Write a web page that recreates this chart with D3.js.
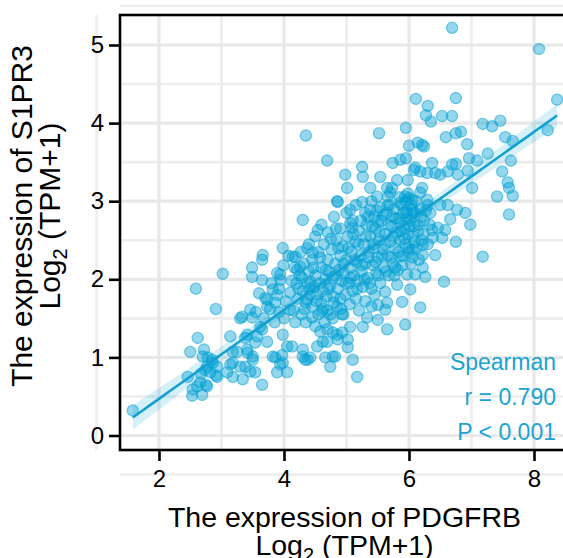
<!DOCTYPE html>
<html>
<head>
<meta charset="utf-8">
<script src="https://cdn.jsdelivr.net/npm/d3@7"></script>
<style>
  body { margin: 0; background: #fff; }
  svg { display: block; }
  text { font-family: "Liberation Sans", Arial, sans-serif; }
</style>
</head>
<body>
<div id="chart"></div>
<script>
// axis ticks
const xTicks = [2, 4, 6, 8];
const yTicks = [0, 1, 2, 3, 4, 5];
const xMinor = [1, 3, 5, 7, 9];
const yMinor = [-0.5, 0.5, 1.5, 2.5, 3.5, 4.5, 5.5];

// labels
const xGene = "PDGFRB";
const yGene = "S1PR3";
const statLines = ["Spearman", "r = 0.790", "P < 0.001"];

// samples: [PDGFRB, S1PR3] in log2(TPM+1)
const lowerSamples = [
  [1.58,0.32],[2.59,1.88],[2.91,1.62],[3.02,2.07],[2.62,1.25],[2.50,1.07],[2.72,1.10],[2.78,1.00],[2.85,0.97],[3.14,1.27],
  [3.18,1.07],[2.46,0.75],[2.67,0.79],[2.74,0.84],[2.82,0.81],[2.91,0.77],[3.09,0.81],[2.75,0.65],[2.61,0.63],[2.53,0.51],
  [2.69,0.52],[2.54,0.59],[2.93,0.88],[3.14,0.91],[3.18,0.75],[2.70,1.01],[2.77,0.88],[2.86,0.93],[3.18,0.93],[2.66,0.68],
  [2.77,0.63],[2.93,0.75],[3.30,1.50],[3.46,1.61],[3.49,2.15],[3.49,2.03],[3.65,1.99],[3.66,2.31],[3.65,2.25],[3.89,2.08],
  [3.94,1.99],[3.98,2.40],[4.14,2.29],[4.26,2.16],[4.30,2.76],[4.54,2.63],[3.73,1.74],[3.41,1.29],[3.57,1.27],[3.65,1.36],
  [3.30,0.88],[3.34,0.72],[3.54,0.81],[3.65,0.65],[3.41,1.10],[3.50,1.01],[3.82,1.01],[3.89,0.81],[4.05,0.81],[3.98,0.93],
  [4.05,1.14],[4.30,1.01],[4.38,0.97],[4.74,0.88],[4.78,1.01],[4.53,1.14],[4.69,1.36],[4.78,1.32],[4.10,1.61],[3.82,1.87],
  [4.37,1.74],[3.94,2.06],[4.21,2.12],[4.29,2.02],[4.42,1.97],[3.70,1.76],[3.89,1.80],[4.10,1.83],[3.73,1.65],[3.86,1.70],
  [3.33,1.52],[3.49,1.51],[3.62,1.39],[3.38,1.25],[3.54,1.19],[3.73,1.20],[3.25,1.07],[3.42,1.06],[3.50,0.97],[3.38,0.88],
  [3.46,0.82],[3.86,1.00],[3.94,0.91],[3.97,1.03],[4.13,1.14],[4.30,1.10],[4.42,1.00],[4.34,0.97],[4.66,1.00],[4.69,1.20],
  [3.98,1.29],[4.18,1.45],[4.45,1.51],[4.58,1.33],[4.61,1.59],[4.74,1.55]
];

const upperSamples = [
  [4.35,3.84],[4.69,3.52],[4.85,3.00],[4.83,2.65],[4.18,2.29],[4.37,2.40],[4.46,2.34],
  [6.69,5.22],[8.08,4.95],[8.37,4.30],[8.22,3.91],
  [6.11,4.31],[6.75,4.32],[6.30,4.22],[6.27,4.10],[6.35,4.02],[6.53,4.09],[6.69,4.09],[7.18,3.99],[7.33,3.96],[7.46,4.03],
  [5.95,3.94],[5.52,3.87],[6.59,3.82],[6.75,3.87],[6.83,3.89],[6.93,3.73],[7.54,3.82],[7.66,3.77],[6.00,3.71],[6.14,3.75],
  [6.24,3.70],[5.74,3.49],[5.86,3.53],[5.95,3.55],[6.10,3.43],[6.18,3.38],[6.37,3.49],[6.69,3.47],[6.75,3.48],[6.96,3.55],
  [7.09,3.52],[7.26,3.61],[7.63,3.52],[7.49,3.38],[5.25,3.44],[4.98,3.34],[5.26,3.31],[5.54,3.31],[5.01,3.17],[5.38,3.17],
  [5.65,3.17],[5.81,3.27],[5.98,3.27],[6.08,3.40],[6.29,3.36],[6.42,3.36],[6.50,3.34],[6.62,3.38],[6.78,3.34],[6.94,3.39],
  [7.01,3.17],[7.58,3.24],[7.60,3.17],[7.66,3.07],[7.41,3.06],[7.60,2.83],[4.86,2.99],[5.25,2.99],[5.49,3.06],[5.70,3.11],
  [5.06,2.89],[5.38,2.89],[5.54,2.92],[5.66,2.95],[5.86,2.98],[6.00,3.04],[6.18,3.11],[6.29,3.02],[6.62,2.95],[6.77,2.89],
  [6.90,2.85],[6.98,2.70],[5.09,2.66],[5.73,3.17],[5.66,3.06],[6.21,3.17],[5.94,3.06],[6.05,3.02],[6.30,2.95],[6.05,2.89],
  [6.34,2.85],[6.50,2.95],[6.66,2.77],[5.06,2.72],[5.34,2.80],[5.50,2.74],[5.73,2.80],[5.86,2.72],[5.98,3.10],[5.96,2.85],
  [5.97,2.78],[6.21,3.72]
];

const rightSamples = [
  [6.58,2.63],[6.53,2.53],[6.42,2.31],[6.22,2.31],[6.05,2.38],[6.22,2.44],[6.05,2.28],[6.22,2.15],[5.97,2.06],[6.10,2.06],
  [6.26,2.03],[6.56,1.97],[6.02,1.87],[5.89,1.71],[6.18,1.64],[5.94,1.42],[5.62,1.61],[5.50,1.48],[5.33,1.51],[5.26,1.39],
  [5.06,1.39],[4.93,1.55],[4.93,1.32],[5.02,1.23],[4.86,1.23],[5.62,1.84],[5.50,1.67],[5.65,1.70],[5.81,1.93],[5.78,2.15],
  [5.86,2.29],[6.38,2.53],[6.37,2.63],[6.46,2.66],[7.18,2.29],[6.75,2.48],[5.65,1.36],[5.17,0.75],[5.10,0.97],[5.02,1.13],
  [4.82,1.01],[4.85,1.29],[4.62,1.20]
];

const coreSamples = [
  [4.20,1.95],[4.25,2.05],[4.30,1.85],[4.32,2.20],[4.35,1.70],[4.38,1.95],[4.40,2.10],[4.42,1.80],[4.45,2.25],[4.48,1.90],
  [4.50,2.05],[4.52,1.72],[4.55,2.35],[4.57,1.95],[4.60,2.15],[4.62,1.85],[4.64,2.45],[4.66,2.00],[4.68,1.78],[4.70,2.25],
  [4.72,2.10],[4.74,1.92],[4.76,2.38],[4.78,2.02],[4.80,1.70],[4.82,2.20],[4.84,2.50],[4.86,1.88],[4.88,2.12],[4.90,2.30],
  [4.92,1.98],[4.94,2.42],[4.96,2.08],[4.98,1.80],[5.00,2.25],[5.02,2.55],[5.04,1.95],[5.06,2.15],[5.08,2.35],[5.10,1.85],
  [5.12,2.05],[5.14,2.48],[5.16,2.22],[5.18,1.98],[5.20,2.62],[5.22,2.30],[5.24,2.10],[5.26,1.90],[5.28,2.45],[5.30,2.20],
  [5.32,2.70],[5.34,2.02],[5.36,2.35],[5.38,2.55],[5.40,1.88],[5.42,2.18],[5.44,2.40],[5.46,2.65],[5.48,2.08],[5.50,2.28],
  [5.52,2.50],[5.54,1.95],[5.56,2.75],[5.58,2.38],[5.60,2.15],[5.62,2.58],[5.64,2.85],[5.66,2.30],[5.68,2.05],[5.70,2.48],
  [5.72,2.68],[5.74,2.20],[5.76,2.90],[5.78,2.40],[5.80,2.60],[5.82,2.12],[5.84,2.78],[5.86,2.50],[5.88,2.95],[5.90,2.30],
  [5.92,2.65],[5.94,2.45],[5.96,2.88],[5.98,2.58],[6.00,2.35],[6.02,2.75],[6.04,2.95],[6.06,2.55],[6.08,2.68],[6.10,2.85],
  [6.12,2.40],[6.15,2.62],[6.18,2.90],[6.20,2.50],[6.24,2.75],
  [4.15,1.60],[4.22,1.75],[4.28,1.55],[4.35,1.45],[4.45,1.65],[4.50,1.40],[4.55,1.55],[4.60,1.70],[4.65,1.45],[4.70,1.60],
  [4.78,1.50],[4.85,1.65],[4.90,1.75],[4.95,1.55],[5.05,1.68],[5.15,1.75],[5.20,1.60],[5.30,1.72],[5.40,1.65],[5.45,1.80],
  [4.50,2.55],[4.60,2.70],[4.70,2.60],[4.80,2.80],[4.90,2.65],[5.00,2.85],[5.10,2.75],[4.40,2.45],[5.15,2.95],[5.30,2.85],
  [5.40,3.00],[5.45,2.80]
];

const denseSamples = [
  [4.33,1.62],[4.41,1.88],[4.47,2.15],[4.53,1.80],[4.58,2.28],[4.63,1.62],[4.67,2.12],[4.71,1.88],[4.75,2.52],[4.79,1.78],
  [4.83,2.05],[4.87,2.40],[4.91,1.62],[4.95,2.20],[4.99,1.95],[5.03,2.40],[5.07,2.02],[5.11,2.58],[5.13,2.25],[5.17,1.88],
  [5.19,2.45],[5.23,2.75],[5.25,2.18],[5.29,2.00],[5.31,2.55],[5.35,2.28],[5.37,1.95],[5.41,2.68],[5.43,2.45],[5.47,2.22],
  [5.49,2.88],[5.51,2.05],[5.53,2.60],[5.57,2.30],[5.59,2.82],[5.61,2.45],[5.63,2.10],[5.67,2.70],[5.69,2.95],[5.71,2.28],
  [5.75,2.55],[5.77,2.05],[5.79,2.78],[5.83,2.35],[5.85,3.05],[5.87,2.62],[5.89,2.18],[5.91,2.85],[5.93,2.52],[5.95,3.00],
  [5.99,2.40],[6.01,2.68],[6.03,2.20],[6.07,2.85],[6.09,2.48],[6.11,3.00],[6.14,2.70],[6.16,2.25],[6.19,2.80],[6.23,2.58],
  [6.27,2.88],[6.30,2.45],[6.33,2.70],[3.92,1.88],[3.99,2.18],[4.03,1.72],[4.07,2.30],[4.12,1.98],[4.17,2.15],[4.23,1.88],
  [4.27,2.35],[3.55,1.58],[3.60,1.82],[3.68,1.50],[3.78,1.62],[3.80,1.95],[3.85,1.45],[3.92,1.58],[4.00,1.50]
];

const samples = [...lowerSamples, ...upperSamples, ...rightSamples, ...coreSamples, ...denseSamples];

const width = 563;
const height = 558;
const panel = { left: 120, right: 569, top: 15, bottom: 450 };
const blue = "rgb(0,160,212)";

const svg = d3.select("#chart")
  .append("svg")
  .attr("width", width)
  .attr("height", height);

const x = d3.scaleLinear().domain([2, 8]).range([159, 534]);
const y = d3.scaleLinear().domain([0, 5]).range([435.5, 45]);

// grid
const grid = svg.append("g");
grid.selectAll(".vminor").data(xMinor).join("line")
  .attr("x1", d => x(d)).attr("x2", d => x(d))
  .attr("y1", panel.top).attr("y2", panel.bottom)
  .attr("stroke", "#ededed").attr("stroke-width", 2.6);
grid.selectAll(".hminor").data(yMinor).join("line")
  .attr("y1", d => y(d)).attr("y2", d => y(d))
  .attr("x1", panel.left).attr("x2", panel.right)
  .attr("stroke", "#ededed").attr("stroke-width", 2.6);
grid.selectAll(".vmajor").data(xTicks).join("line")
  .attr("x1", d => x(d)).attr("x2", d => x(d))
  .attr("y1", panel.top).attr("y2", panel.bottom)
  .attr("stroke", "#e8e8e8").attr("stroke-width", 3.2);
grid.selectAll(".hmajor").data(yTicks).join("line")
  .attr("y1", d => y(d)).attr("y2", d => y(d))
  .attr("x1", panel.left).attr("x2", panel.right)
  .attr("stroke", "#e8e8e8").attr("stroke-width", 3.2);

// linear fit with 95% band
const n = samples.length;
const mx = d3.mean(samples, d => d[0]);
const my = d3.mean(samples, d => d[1]);
const sxx = d3.sum(samples, d => (d[0] - mx) ** 2);
const sxy = d3.sum(samples, d => (d[0] - mx) * (d[1] - my));
const slope = sxy / sxx;
const intercept = my - slope * mx;
const sse = d3.sum(samples, d => (d[1] - intercept - slope * d[0]) ** 2);
const s = Math.sqrt(sse / (n - 2));
const [x0, x1] = d3.extent(samples, d => d[0]);
const fitX = d3.range(81).map(i => x0 + (x1 - x0) * i / 80);
const fit = fitX.map(v => {
  const se = s * Math.sqrt(1 / n + (v - mx) ** 2 / sxx);
  const m = intercept + slope * v;
  return { v, m, lo: m - 1.96 * se, hi: m + 1.96 * se };
});

// points
svg.append("g")
  .selectAll("circle")
  .data(samples)
  .join("circle")
  .attr("cx", d => x(d[0]))
  .attr("cy", d => y(d[1]))
  .attr("r", 5.6)
  .attr("fill", blue)
  .attr("fill-opacity", 0.42)
  .attr("stroke", blue)
  .attr("stroke-opacity", 0.5)
  .attr("stroke-width", 1.3);

svg.append("path")
  .datum(fit)
  .attr("fill", blue)
  .attr("fill-opacity", 0.16)
  .attr("d", d3.area().x(d => x(d.v)).y0(d => y(d.lo)).y1(d => y(d.hi)));

svg.append("path")
  .datum(fit)
  .attr("fill", "none")
  .attr("stroke", "#12a0d2")
  .attr("stroke-width", 2.6)
  .attr("d", d3.line().x(d => x(d.v)).y(d => y(d.m)));

// panel border
svg.append("rect")
  .attr("x", panel.left).attr("y", panel.top)
  .attr("width", panel.right - panel.left)
  .attr("height", panel.bottom - panel.top)
  .attr("fill", "none")
  .attr("stroke", "#000")
  .attr("stroke-width", 2.6);

// axes
const xAxis = svg.append("g")
  .attr("transform", `translate(0, ${panel.bottom})`)
  .call(d3.axisBottom(x).tickValues(xTicks).tickFormat(d3.format("d"))
    .tickSize(11).tickPadding(9).tickSizeOuter(0));
const yAxis = svg.append("g")
  .attr("transform", `translate(${panel.left}, 0)`)
  .call(d3.axisLeft(y).tickValues(yTicks).tickFormat(d3.format("d"))
    .tickSize(11).tickPadding(5).tickSizeOuter(0));
[xAxis, yAxis].forEach(g => {
  g.select(".domain").remove();
  g.selectAll(".tick line").attr("stroke", "#000").attr("stroke-width", 2.6);
  g.selectAll(".tick text")
    .attr("fill", "#000")
    .style("font-size", "24px")
    .style("font-family", "'Liberation Sans', Arial, sans-serif");
});

// axis titles
function logLabel(sel) {
  sel.append("tspan").text("Log");
  sel.append("tspan").attr("dy", 7).style("font-size", "20px").text("2");
  sel.append("tspan").attr("dy", -7).text(" (TPM+1)");
}

const cx = (panel.left + panel.right) / 2;
svg.append("text")
  .attr("x", cx).attr("y", 527)
  .attr("text-anchor", "middle")
  .style("font-size", "28.5px")
  .text(`The expression of ${xGene}`);
svg.append("text")
  .attr("x", cx).attr("y", 555)
  .attr("text-anchor", "middle")
  .style("font-size", "28.5px")
  .call(logLabel);

const cy = 216;
svg.append("text")
  .attr("transform", `translate(32, ${cy}) rotate(-90)`)
  .attr("text-anchor", "middle")
  .style("font-size", "30px")
  .text(`The expression of ${yGene}`);
svg.append("text")
  .attr("transform", `translate(60, ${cy}) rotate(-90)`)
  .attr("text-anchor", "middle")
  .style("font-size", "30px")
  .call(logLabel);

// correlation annotation
svg.append("g")
  .selectAll("text")
  .data(statLines)
  .join("text")
  .attr("x", 556)
  .attr("y", (d, i) => 370 + i * 35)
  .attr("text-anchor", "end")
  .attr("fill", "#1ba3d4")
  .style("font-size", "23px")
  .text(d => d);
</script>
</body>
</html>
